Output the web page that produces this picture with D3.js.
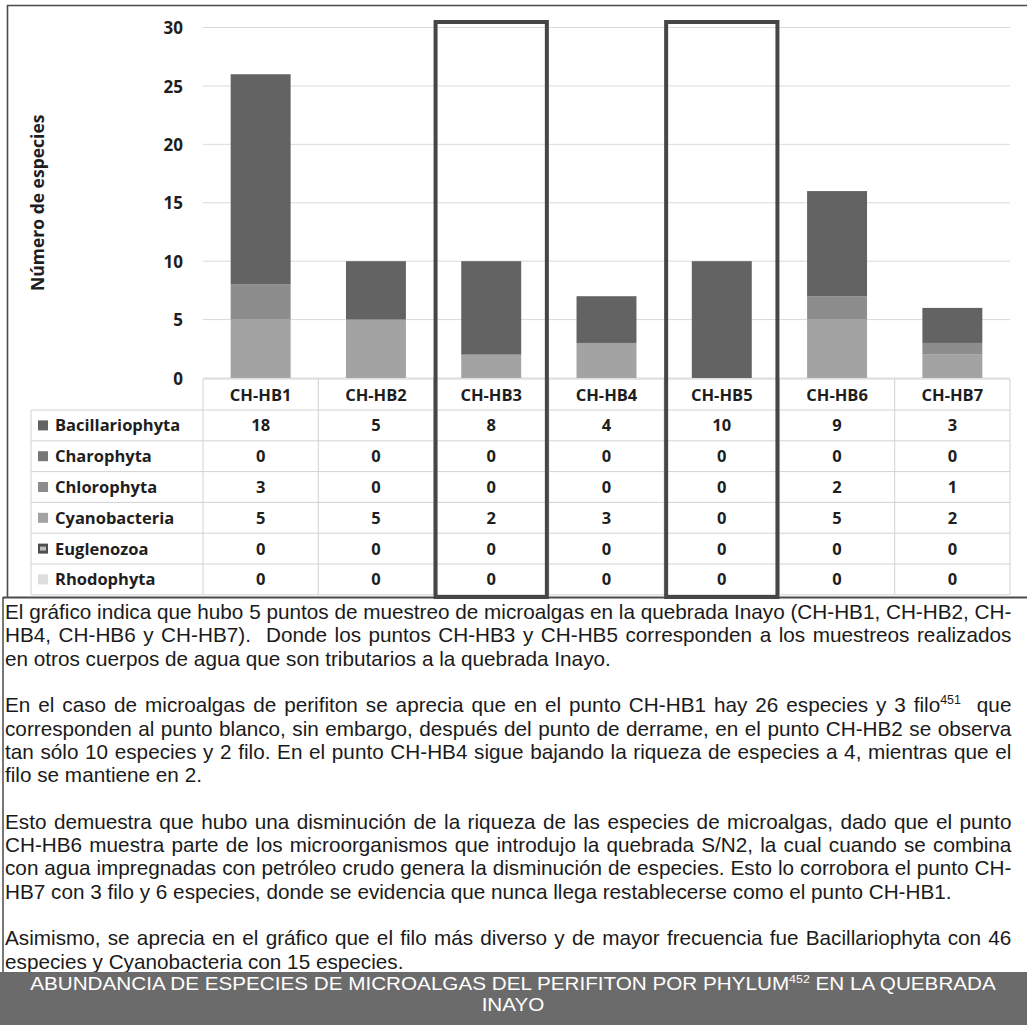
<!DOCTYPE html>
<html>
<head>
<meta charset="utf-8">
<script src="https://cdn.jsdelivr.net/npm/d3@7"></script>
<style>
  html, body { margin: 0; padding: 0; background: #ffffff; }
  svg { display: block; }
</style>
</head>
<body>
<svg id="page" width="1027" height="1025"></svg>
<script>
// Sampling points along the stream
const stations = ["CH-HB1", "CH-HB2", "CH-HB3", "CH-HB4", "CH-HB5", "CH-HB6", "CH-HB7"];

// Phyla as listed in the data table (top to bottom)
const phyla = ["Bacillariophyta", "Charophyta", "Chlorophyta", "Cyanobacteria", "Euglenozoa", "Rhodophyta"];

// Number of species per phylum and station
const bacillariophyta = [18, 5, 8, 4, 10, 9, 3];
const charophyta      = [0, 0, 0, 0, 0, 0, 0];
const chlorophyta     = [3, 0, 0, 0, 0, 2, 1];
const cyanobacteria   = [5, 5, 2, 3, 0, 5, 2];
const euglenozoa      = [0, 0, 0, 0, 0, 0, 0];
const rhodophyta      = [0, 0, 0, 0, 0, 0, 0];

const yTicks = [0, 5, 10, 15, 20, 25, 30];

// Stations drawn with a heavy outline (tributaries)
const tributaries = ["CH-HB3", "CH-HB5"];

const phylumColors = ["#636363", "#777777", "#8d8d8d", "#a3a3a3", "#4e4e4e", "#dedede"];

// Commentary text, one entry per printed line; true = justified line
const paragraphs = [
  [["El gráfico indica que hubo 5 puntos de muestreo de microalgas en la quebrada Inayo (CH-HB1, CH-HB2, CH-", true],
   ["HB4, CH-HB6 y CH-HB7).  Donde los puntos CH-HB3 y CH-HB5 corresponden a los muestreos realizados", true],
   ["en otros cuerpos de agua que son tributarios a la quebrada Inayo.", false]],
  [["En el caso de microalgas de perifiton se aprecia que en el punto CH-HB1 hay 26 especies y 3 filo^451  que", true],
   ["corresponden al punto blanco, sin embargo, después del punto de derrame, en el punto CH-HB2 se observa", true],
   ["tan sólo 10 especies y 2 filo. En el punto CH-HB4 sigue bajando la riqueza de especies a 4, mientras que el", true],
   ["filo se mantiene en 2.", false]],
  [["Esto demuestra que hubo una disminución de la riqueza de las especies de microalgas, dado que el punto", true],
   ["CH-HB6 muestra parte de los microorganismos que introdujo la quebrada S/N2, la cual cuando se combina", true],
   ["con agua impregnadas con petróleo crudo genera la disminución de especies. Esto lo corrobora el punto CH-", true],
   ["HB7 con 3 filo y 6 especies, donde se evidencia que nunca llega restablecerse como el punto CH-HB1.", false]],
  [["Asimismo, se aprecia en el gráfico que el filo más diverso y de mayor frecuencia fue Bacillariophyta con 46", true],
   ["especies y Cyanobacteria con 15 especies.", false]]
];

const captionLines = ["ABUNDANCIA DE ESPECIES DE MICROALGAS DEL PERIFITON POR PHYLUM^452 EN LA QUEBRADA", "INAYO"];

// ---------------------------------------------------------------------------
const seriesValues = [bacillariophyta, charophyta, chlorophyta, cyanobacteria, euglenozoa, rhodophyta];
const rows = stations.map((s, i) => {
  const r = { station: s };
  phyla.forEach((p, k) => { r[p] = seriesValues[k][i]; });
  return r;
});

const svg = d3.select("#page");
const chartFont = "'Open Sans', 'Noto Sans', sans-serif";
const bodyFont = "'Liberation Sans Narrow', 'Arial Narrow', 'Liberation Sans', sans-serif";

const plotLeft = 203, plotRight = 1010, plotTop = 27.5, plotBottom = 378;
const tableRowTop = 410, rowH = 30.8, tableBottom = tableRowTop + rowH * 6;
const labelLeft = 31;

const x = d3.scaleBand().domain(stations).range([plotLeft, plotRight]).padding(0);
const y = d3.scaleLinear().domain([0, 30]).range([plotBottom, plotTop]);
const color = d3.scaleOrdinal().domain(phyla).range(phylumColors);

// Horizontal gridlines
svg.append("g").selectAll("line").data(yTicks).join("line")
  .attr("x1", plotLeft).attr("x2", plotRight)
  .attr("y1", d => y(d)).attr("y2", d => y(d))
  .attr("stroke", "#dadada").attr("stroke-width", 1);

// Y axis labels
const yAxis = d3.axisLeft(y).tickValues(yTicks).tickSize(0).tickPadding(0);
const yg = svg.append("g").attr("transform", "translate(183,0)").call(yAxis);
yg.select(".domain").remove();
yg.selectAll("text")
  .attr("font-family", chartFont).attr("font-weight", 700).attr("font-size", 17)
  .attr("fill", "#1e1e1e").attr("dy", "0.36em");

svg.append("text")
  .attr("transform", `translate(44,${(plotTop + plotBottom) / 2}) rotate(-90)`)
  .attr("text-anchor", "middle")
  .attr("font-family", chartFont).attr("font-weight", 700).attr("font-size", 17.5)
  .attr("fill", "#1e1e1e")
  .text("Número de especies");

// Stacked bars: Bacillariophyta on top, remaining phyla stacked beneath it
const stackOrder = phyla.slice().reverse();
const stacked = d3.stack().keys(stackOrder)(rows);
const barW = x.bandwidth() * 0.52;
svg.append("g").selectAll("g").data(stacked).join("g")
  .attr("fill", d => color(d.key))
  .selectAll("rect").data(d => d).join("rect")
  .attr("x", d => x(d.data.station) + (x.bandwidth() - barW) / 2)
  .attr("width", barW)
  .attr("y", d => y(d[1]))
  .attr("height", d => y(d[0]) - y(d[1]));

// Data table grid
const grid = svg.append("g").attr("stroke", "#d2d2d2").attr("stroke-width", 1);
grid.append("line").attr("x1", plotLeft).attr("x2", plotRight)
  .attr("y1", plotBottom + 1).attr("y2", plotBottom + 1);
d3.range(0, 7).forEach(i => {
  grid.append("line").attr("x1", labelLeft).attr("x2", plotRight)
    .attr("y1", tableRowTop + i * rowH).attr("y2", tableRowTop + i * rowH);
});
stations.forEach(s => {
  grid.append("line").attr("x1", x(s)).attr("x2", x(s))
    .attr("y1", plotBottom + 1).attr("y2", tableBottom);
});
grid.append("line").attr("x1", plotRight).attr("x2", plotRight)
  .attr("y1", plotBottom + 1).attr("y2", tableBottom);
grid.append("line").attr("x1", labelLeft).attr("x2", labelLeft)
  .attr("y1", tableRowTop).attr("y2", tableBottom);

// Station headers
svg.append("g").selectAll("text").data(stations).join("text")
  .attr("x", d => x(d) + x.bandwidth() / 2)
  .attr("y", (plotBottom + tableRowTop) / 2 + 1)
  .attr("dy", "0.36em")
  .attr("text-anchor", "middle")
  .attr("font-family", chartFont).attr("font-weight", 700).attr("font-size", 16.5)
  .attr("fill", "#1e1e1e")
  .text(d => d);

// Legend keys + phylum names
const legendRows = svg.append("g").selectAll("g").data(phyla).join("g")
  .attr("transform", (d, i) => `translate(0,${tableRowTop + i * rowH + rowH / 2})`);
legendRows.append("rect")
  .attr("x", 38).attr("y", -5).attr("width", 10).attr("height", 10)
  .attr("fill", d => color(d));
legendRows.filter(d => d === "Euglenozoa").append("rect")
  .attr("x", 40).attr("y", -2).attr("width", 6).attr("height", 4)
  .attr("fill", "#bdbdbd");
legendRows.append("text")
  .attr("x", 55).attr("dy", "0.36em")
  .attr("font-family", chartFont).attr("font-weight", 700).attr("font-size", 16.5)
  .attr("fill", "#1e1e1e")
  .text(d => d);

// Values in the table
phyla.forEach((p, k) => {
  svg.append("g").selectAll("text").data(rows).join("text")
    .attr("x", d => x(d.station) + x.bandwidth() / 2)
    .attr("y", tableRowTop + k * rowH + rowH / 2)
    .attr("dy", "0.36em")
    .attr("text-anchor", "middle")
    .attr("font-family", chartFont).attr("font-weight", 700).attr("font-size", 16.5)
    .attr("fill", "#1e1e1e")
    .text(d => d[p]);
});

// Outer frame of the figure
const frame = svg.append("g").attr("stroke", "#4a4a4a").attr("fill", "none");
frame.append("line").attr("x1", 7).attr("x2", 1027).attr("y1", 5.5).attr("y2", 5.5).attr("stroke-width", 1.6);
frame.append("line").attr("x1", 7.5).attr("x2", 7.5).attr("y1", 5).attr("y2", 597).attr("stroke-width", 1.6);
frame.append("line").attr("x1", 3).attr("x2", 1027).attr("y1", 597.5).attr("y2", 597.5).attr("stroke-width", 2);

// Heavy outline around the tributary stations
svg.append("g").selectAll("rect").data(tributaries).join("rect")
  .attr("x", d => x(d) + 2)
  .attr("y", 22)
  .attr("width", x.bandwidth() - 4)
  .attr("height", 597 - 22)
  .attr("fill", "none")
  .attr("stroke", "#464646")
  .attr("stroke-width", 4);

// ---------------------------------------------------------------------------
// Text helpers. "^123" inside a string marks a superscript note number.
function writeLine(g, str, size, fill, anchor) {
  const t = g.append("text")
    .attr("x", 0).attr("y", 0)
    .attr("font-family", bodyFont).attr("font-size", size)
    .attr("fill", fill).attr("text-anchor", anchor || "start")
    .style("white-space", "pre");
  const parts = str.split(/\^(\d+)/);
  let raised = false;
  parts.forEach((part, i) => {
    if (i % 2 === 1) {
      t.append("tspan").attr("font-size", size * 0.6).attr("dy", -size * 0.38).text(part);
      raised = true;
    } else if (part.length) {
      const sp = t.append("tspan").text(part);
      if (raised) { sp.attr("dy", size * 0.38); raised = false; }
    }
  });
  return t;
}

// Commentary block
const textLeft = 5, textRight = 1012, lineStep = 23.3, firstBaseline = 619;
const bodySize = 20.8;
const textWidth = textRight - textLeft;
svg.append("line").attr("x1", 3).attr("x2", 3).attr("y1", 597).attr("y2", 972)
  .attr("stroke", "#4a4a4a").attr("stroke-width", 1.5);

const body = svg.append("g");
const placed = [];
let lineIndex = 0;
paragraphs.forEach(para => {
  para.forEach(([str, justify]) => {
    const holder = body.append("g");
    const t = writeLine(holder, str, bodySize, "#1a1a1a");
    placed.push({ holder, t, str, justify, natural: t.node().getComputedTextLength(),
                  baseline: firstBaseline + lineIndex * lineStep });
    lineIndex++;
  });
  lineIndex++; // blank line between paragraphs
});
// common horizontal scale: the fullest justified line fits exactly
const widen = d3.min(placed.filter(p => p.justify), p => textWidth / p.natural);
placed.forEach(p => {
  p.holder.attr("transform", `translate(${textLeft},${p.baseline}) scale(${widen},1)`);
  if (p.justify) {
    const gaps = (p.str.match(/ /g) || []).length;
    const extra = textWidth / widen - p.natural;
    if (gaps > 0 && extra > 0) p.t.style("word-spacing", (extra / gaps) + "px");
  }
});

// Caption band
svg.append("rect").attr("x", 0).attr("y", 972).attr("width", 1027).attr("height", 53)
  .attr("fill", "#6b6b6b");
const cap = svg.append("g");
const capSize = 18.2;
const capHolders = captionLines.map((c, i) => {
  const holder = cap.append("g");
  const t = writeLine(holder, c, capSize, "#ffffff", "middle");
  return { holder, t, natural: t.node().getComputedTextLength(), baseline: 990 + i * 21 };
});
const capWiden = 965 / capHolders[0].natural;
capHolders.forEach(h => {
  h.holder.attr("transform", `translate(513,${h.baseline}) scale(${capWiden},1)`);
});
</script>
</body>
</html>
